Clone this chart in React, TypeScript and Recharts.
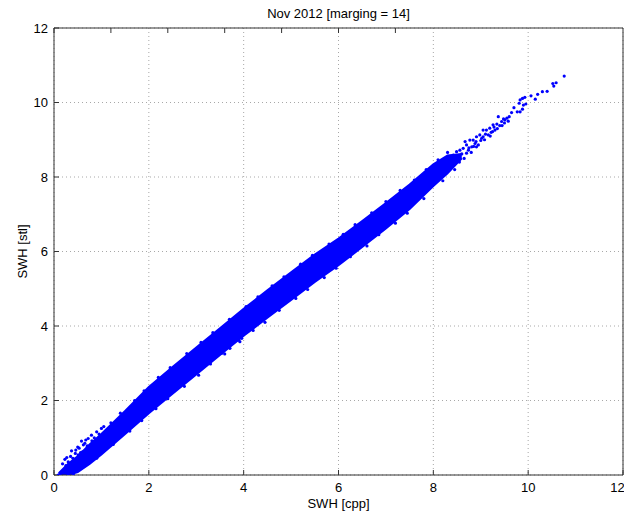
import React from "react";
import {
  ComposedChart,
  Area,
  Scatter,
  XAxis,
  YAxis,
  CartesianGrid,
} from "recharts";

// Dense core of the scatter: envelope of the band (SWH cpp -> stl low/high)
const bandX = [0.1, 0.3, 0.5, 0.75, 1.0, 1.5, 2.0, 2.5, 3.0, 3.5, 4.0, 4.5, 5.0, 5.5, 6.0, 6.5, 7.0, 7.5, 8.0, 8.3, 8.6];
const bandLow = [0.0, 0.0, 0.08, 0.3, 0.55, 1.1, 1.66, 2.18, 2.7, 3.22, 3.74, 4.22, 4.7, 5.18, 5.63, 6.12, 6.62, 7.14, 7.76, 8.1, 8.5];
const bandHigh = [0.05, 0.3, 0.5, 0.82, 1.1, 1.72, 2.36, 2.9, 3.42, 3.94, 4.46, 4.96, 5.44, 5.92, 6.35, 6.82, 7.3, 7.8, 8.34, 8.58, 8.62];

// Sparse high-value tail
const tailPoints: [number, number][] = [
  [10.76, 10.71], [10.59, 10.53], [10.52, 10.51], [10.54, 10.44], [10.4, 10.3],
  [10.3, 10.29], [10.2, 10.22], [10.15, 10.09], [10.06, 10.18], [9.93, 10.14],
  [9.88, 10.11], [9.83, 10.07], [9.81, 9.98], [9.9, 9.93], [9.95, 9.96],
  [9.88, 9.82], [9.83, 9.75], [9.77, 9.75], [9.7, 9.86], [9.65, 9.73],
  [9.6, 9.62], [9.55, 9.58], [9.51, 9.53], [9.44, 9.49], [9.37, 9.62],
  [9.34, 9.42], [9.26, 9.4], [9.19, 9.31], [9.12, 9.26], [9.05, 9.26],
  [8.98, 9.13], [8.91, 9.08], [8.84, 8.99], [8.77, 8.99], [8.7, 8.86],
  [8.67, 8.95], [8.63, 8.77], [8.56, 8.72], [8.49, 8.68], [8.42, 8.59],
  [9.3, 9.26], [9.16, 9.13], [9.02, 9.04], [8.88, 8.9], [8.81, 8.81],
  [8.74, 8.72], [8.91, 8.81], [9.05, 9.08], [9.22, 9.2], [9.4, 9.38],
  [8.55, 8.4], [8.6, 8.62], [8.65, 8.5], [8.7, 8.64], [8.75, 8.78],
  [8.8, 8.66], [8.85, 8.82], [8.9, 8.95], [8.95, 8.86], [9.0, 8.98],
  [9.08, 9.0], [9.1, 9.15], [9.2, 9.1], [9.25, 9.22], [9.35, 9.3],
  [9.45, 9.38], [9.5, 9.45], [9.58, 9.5], [9.48, 9.56], [9.28, 9.34],
  [8.45, 8.35], [8.5, 8.52], [8.4, 8.5], [8.35, 8.25], [8.25, 8.2],
];

// Sparse low-value outliers near the origin
const lowPoints: [number, number][] = [
  [0.23, 0.42], [0.27, 0.47], [0.37, 0.65], [0.46, 0.67], [0.51, 0.54],
  [0.55, 0.42], [0.62, 0.47], [0.53, 0.72], [0.62, 0.81], [0.58, 0.91],
  [0.67, 0.94], [0.72, 0.98], [0.79, 1.07], [0.9, 1.16], [1.0, 1.25],
  [0.41, 0.27], [0.34, 0.21], [0.48, 0.18], [0.2, 0.09], [0.13, 0.04],
  [0.09, 0.0], [0.3, 0.03], [0.41, 0.0], [0.69, 0.67], [0.76, 0.76],
  [0.3, 0.35], [0.35, 0.5], [0.45, 0.58], [0.5, 0.75], [0.6, 0.62],
  [0.65, 0.85], [0.7, 0.78], [0.85, 1.0], [0.95, 1.1], [0.8, 0.92],
  [0.25, 0.25], [0.18, 0.3], [0.4, 0.45], [0.56, 0.6], [1.05, 1.3],
];

// Ragged edges of the dense band and a few mid-range outliers
const edgePoints: [number, number][] = [
  [1.2, 1.4], [1.4, 1.66], [1.7, 2.0], [1.9, 2.26], [2.2, 2.62], [2.45, 2.88],
  [2.8, 3.26], [3.1, 3.56], [3.35, 3.82], [3.7, 4.18], [4.05, 4.52], [4.3, 4.78],
  [4.6, 5.08], [4.85, 5.32], [5.2, 5.66], [5.45, 5.9], [5.8, 6.2], [6.1, 6.46],
  [6.35, 6.72], [6.7, 7.04], [7.0, 7.34], [7.3, 7.64], [7.6, 7.92], [7.85, 8.2],
  [8.1, 8.46], [8.3, 8.66],
  [0.9, 0.45], [1.25, 0.82], [1.6, 1.18], [1.85, 1.46], [2.15, 1.78], [2.4, 2.05],
  [2.75, 2.38], [3.05, 2.68], [3.3, 2.98], [3.6, 3.25], [4.2, 3.88], [4.45, 4.1],
  [4.75, 4.42], [5.1, 4.74], [5.35, 4.98], [5.7, 5.3], [5.95, 5.55], [6.25, 5.86],
  [6.6, 6.15], [6.85, 6.45], [7.2, 6.76], [7.45, 7.03], [7.8, 7.42], [8.2, 7.9],
  [8.45, 8.2],
  [3.54, 3.27], [3.71, 3.4], [3.89, 3.62], [3.92, 3.58], [3.96, 3.67], [5.64, 5.34],
];

const ticks = [0, 2, 4, 6, 8, 10, 12];

const titleText = "Nov 2012 [marging = 14]";
const xLabel = "SWH [cpp]";
const yLabel = "SWH [stl]";

const bandRows = bandX.map((x, i) => ({ x, band: [bandLow[i], bandHigh[i]] }));
const toRows = (pts: [number, number][]) => pts.map(([x, y]) => ({ x, y }));
const scatterRows = [...toRows(tailPoints), ...toRows(lowPoints), ...toRows(edgePoints)];

const BLUE = "#0000ff";
const FONT = "'Liberation Sans', Arial, sans-serif";
const AXIS = "#333333";

const Dot = (props: any) => {
  const { cx, cy } = props;
  if (cx == null || cy == null) return null;
  return <circle cx={cx} cy={cy} r={1.6} fill={BLUE} />;
};

export default function App() {
  return (
    <div style={{ position: "relative", width: 616, height: 507, fontFamily: FONT }}>
      <ComposedChart
        width={616}
        height={507}
        data={bandRows}
        margin={{ top: 19, right: 0, bottom: 0, left: 0 }}
        style={{ fontFamily: FONT }}
      >
        <CartesianGrid stroke="#a8a8a8" strokeDasharray="1 3" />
        <XAxis
          dataKey="x"
          type="number"
          domain={[0, 12]}
          ticks={ticks}
          allowDataOverflow
          height={40}
          stroke={AXIS}
          tickSize={-5}
          tickMargin={13}
          tick={{ fill: "#000", fontSize: 13, fontFamily: FONT }}
          label={{ value: xLabel, position: "insideBottom", offset: 7, fill: "#000", fontSize: 13, fontFamily: FONT }}
        />
        <XAxis
          xAxisId="top"
          orientation="top"
          type="number"
          domain={[0, 12]}
          ticks={ticks}
          height={1}
          stroke={AXIS}
          tickSize={-5}
          tickFormatter={() => ""}
        />
        <YAxis
          type="number"
          domain={[0, 12]}
          ticks={ticks}
          allowDataOverflow
          width={46}
          stroke={AXIS}
          tickSize={-5}
          tickMargin={11}
          tick={{ fill: "#000", fontSize: 13, fontFamily: FONT }}
          label={{ value: yLabel, angle: -90, position: "insideLeft", offset: 14, fill: "#000", fontSize: 13, fontFamily: FONT, style: { textAnchor: "middle" } }}
        />
        <YAxis
          yAxisId="right"
          orientation="right"
          type="number"
          domain={[0, 12]}
          ticks={ticks}
          width={1}
          stroke={AXIS}
          tickSize={-5}
          tickFormatter={() => ""}
        />
        <Area
          dataKey="band"
          type="linear"
          stroke={BLUE}
          strokeWidth={2}
          fill={BLUE}
          fillOpacity={1}
          isAnimationActive={false}
          dot={false}
          activeDot={false}
        />
        <Scatter data={scatterRows} dataKey="y" shape={Dot} isAnimationActive={false} />
      </ComposedChart>
      <div
        style={{
          position: "absolute",
          top: -2,
          left: 46,
          width: 569,
          textAlign: "center",
          fontSize: 13,
          lineHeight: "16px",
          color: "#000",
          fontFamily: FONT,
          zIndex: 2,
        }}
      >
        {titleText}
      </div>
    </div>
  );
}
